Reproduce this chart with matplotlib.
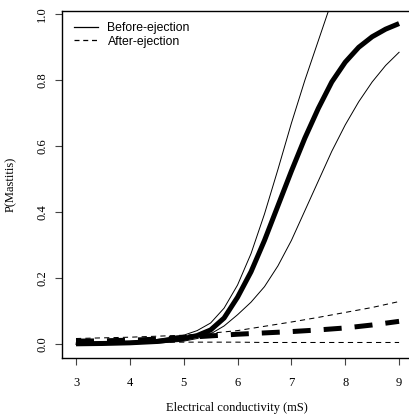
import numpy as np
import matplotlib
matplotlib.use('Agg')
import matplotlib.pyplot as plt

# electrical conductivity grid (mS)
ec = [3.0, 3.5, 4.0, 4.5, 5.0, 5.25, 5.5, 5.75, 6.0, 6.25, 6.5, 6.75,
      7.0, 7.25, 7.5, 7.75, 8.0, 8.25, 8.5, 8.75, 9.0]

# before-ejection: fitted P(mastitis) and its band
before_fit = [0.002, 0.003, 0.005, 0.009, 0.018, 0.027, 0.044, 0.080, 0.143, 0.220, 0.315,
              0.420, 0.525, 0.625, 0.715, 0.795, 0.855, 0.900, 0.932, 0.955, 0.972]
before_hi = [0.004, 0.006, 0.009, 0.015, 0.028, 0.042, 0.065, 0.110, 0.180, 0.275, 0.395,
             0.530, 0.670, 0.800, 0.920, 1.040, np.nan, np.nan, np.nan, np.nan, np.nan]
before_lo = [0.000, 0.001, 0.002, 0.004, 0.010, 0.018, 0.032, 0.056, 0.090, 0.128, 0.175,
             0.238, 0.315, 0.405, 0.495, 0.585, 0.665, 0.735, 0.795, 0.845, 0.885]

# after-ejection
ec2 = [3.0, 3.5, 4.0, 4.5, 5.0, 5.5, 6.0, 6.5, 7.0, 7.5, 8.0, 8.5, 9.0]
after_fit = [0.010, 0.011, 0.013, 0.016, 0.021, 0.026, 0.031, 0.035, 0.039, 0.044, 0.050, 0.059, 0.070]
after_hi = [0.018, 0.020, 0.022, 0.025, 0.028, 0.034, 0.042, 0.055, 0.068, 0.082, 0.097, 0.112, 0.130]
after_lo = [0.006, 0.006, 0.006, 0.007, 0.007, 0.007, 0.007, 0.006, 0.006, 0.006, 0.006, 0.006, 0.006]

serif = 'Liberation Serif'

fig = plt.figure(figsize=(4.09, 4.19), dpi=100)
ax = fig.add_axes([62/409, 61/419, 350/409, 347/419])

ax.plot(ec, before_fit, color='black', lw=3.6, solid_capstyle='butt', solid_joinstyle='round')
ax.plot(ec, before_hi, color='black', lw=0.7)
ax.plot(ec, before_lo, color='black', lw=0.7)
ax.plot(ec2, after_fit, color='black', lw=3.6, dashes=(3.6, 2.6))
ax.plot(ec2, after_hi, color='black', lw=0.75, dashes=(5, 4))
ax.plot(ec2, after_lo, color='black', lw=0.75, dashes=(5, 4))

ax.set_xlim(2.74, 9.24)
ax.set_ylim(-0.041, 1.01)
ax.set_xticks([3, 4, 5, 6, 7, 8, 9])
ax.set_yticks([0.0, 0.2, 0.4, 0.6, 0.8, 1.0])
ax.set_xticklabels(['3', '4', '5', '6', '7', '8', '9'], fontfamily=serif, fontsize=9)
ax.set_yticklabels(['0.0', '0.2', '0.4', '0.6', '0.8', '1.0'], fontfamily=serif,
                   fontsize=9, rotation=90, va='center')
ax.tick_params(axis='x', length=5, width=0.8, pad=9, color='#444444')
ax.tick_params(axis='y', length=5, width=0.8, pad=5, color='#444444')
for s in ax.spines.values():
    s.set_linewidth(1.0)

ax.set_xlabel('Electrical conductivity (mS)', fontfamily=serif, fontsize=9, labelpad=9)
ax.set_ylabel('P(Mastitis)', fontfamily=serif, fontsize=9, labelpad=14)

h1, = ax.plot([], [], color='black', lw=0.9)
h2, = ax.plot([], [], color='black', lw=0.9, dashes=(4, 3))
ax.legend([h1, h2], ['Before-ejection', 'After-ejection'], loc='upper left',
          frameon=False, prop={'family': 'Liberation Sans', 'size': 8.8},
          handlelength=2.0, handletextpad=0.75, labelspacing=0.15,
          borderaxespad=0.0, bbox_to_anchor=(0.02, 0.983))

fig.savefig('out.png', dpi=100)
